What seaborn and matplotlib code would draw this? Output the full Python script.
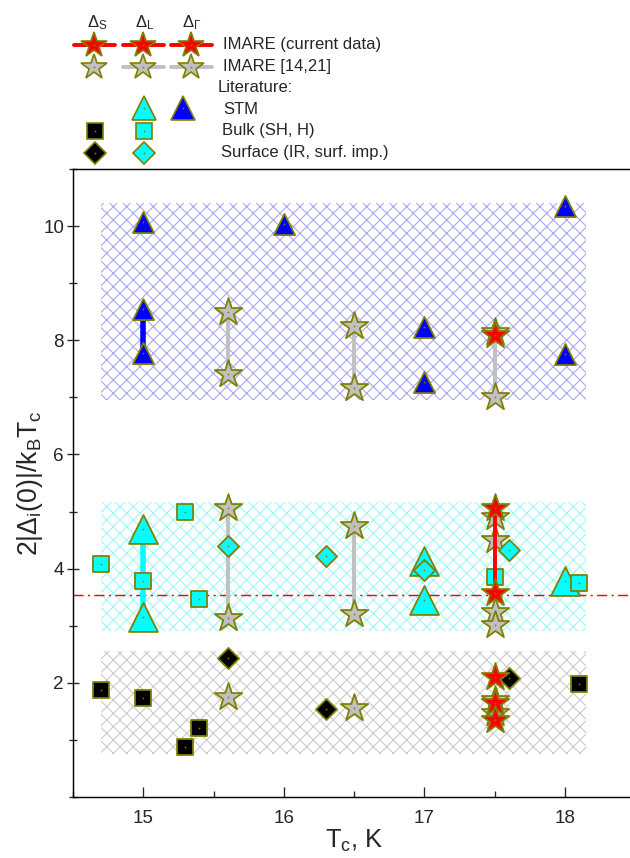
import matplotlib
matplotlib.use("Agg")
import matplotlib.pyplot as plt
import seaborn as sns
import pandas as pd
from matplotlib.patches import Rectangle
from matplotlib.ticker import MultipleLocator

# ---- gap ratios 2|Delta_i(0)|/k_B T_c versus T_c ----
# IMARE, current data
imare_now_tc = [17.5, 17.5, 17.5, 17.5, 17.5, 17.5]
imare_now_gap = [8.10, 5.06, 3.57, 2.10, 1.64, 1.35]
imare_now_bar_tc = [17.5]
imare_now_bar_lo = [3.57]
imare_now_bar_hi = [5.06]

# IMARE, refs [14,21]
imare_old_tc = [15.6, 15.6, 15.6, 15.6, 15.6,
                16.5, 16.5, 16.5, 16.5, 16.5,
                17.5, 17.5, 17.5, 17.5, 17.5, 17.5, 17.5, 17.5]
imare_old_gap = [8.49, 7.41, 5.06, 3.13, 1.76,
                 8.25, 7.16, 4.75, 3.20, 1.56,
                 8.15, 7.00, 4.90, 4.50, 3.24, 3.01, 1.70, 1.48]
imare_old_bar_tc = [15.6, 15.6, 16.5, 16.5, 17.5]
imare_old_bar_lo = [7.41, 3.13, 7.16, 3.20, 7.00]
imare_old_bar_hi = [8.49, 5.06, 8.25, 4.75, 8.15]

# STM, Delta_Gamma
stm_g_tc = [15.0, 15.0, 15.0, 16.0, 17.0, 17.0, 18.0, 18.0]
stm_g_gap = [10.07, 8.54, 7.77, 10.03, 8.23, 7.27, 10.35, 7.76]
stm_g_bar_tc = [15.0]
stm_g_bar_lo = [7.77]
stm_g_bar_hi = [8.54]

# STM, Delta_L
stm_l_tc = [15.0, 15.0, 17.0, 17.0, 18.0]
stm_l_gap = [4.69, 3.15, 4.13, 3.45, 3.78]
stm_l_bar_tc = [15.0]
stm_l_bar_lo = [3.15]
stm_l_bar_hi = [4.69]

# Bulk probes (specific heat, H)
bulk_s_tc = [14.7, 15.0, 15.3, 15.4, 18.1]
bulk_s_gap = [1.88, 1.73, 0.88, 1.20, 1.98]
bulk_l_tc = [14.7, 15.0, 15.3, 15.4, 17.5, 18.1]
bulk_l_gap = [4.08, 3.78, 4.99, 3.47, 3.85, 3.75]

# Surface probes (IR, surface impedance)
surf_s_tc = [15.6, 16.3, 17.6]
surf_s_gap = [2.43, 1.54, 2.08]
surf_l_tc = [15.6, 16.3, 17.0, 17.6]
surf_l_gap = [4.40, 4.22, 3.98, 4.33]

# BCS weak-coupling limit
bcs_ratio = 3.53

# Shaded ranges for each gap: (Tc from, Tc to, ratio from, ratio to)
band_gamma = (14.7, 18.15, 6.95, 10.40)
band_l = (14.7, 18.15, 2.90, 5.17)
band_s = (14.7, 18.15, 0.75, 2.55)

# ---- styling ----
sns.set_theme(style="ticks")
plt.rcParams["font.family"] = ["Liberation Sans", "DejaVu Sans"]
plt.rcParams["mathtext.fontset"] = "custom"
plt.rcParams["mathtext.rm"] = "Liberation Sans"
plt.rcParams["mathtext.it"] = "Liberation Sans"
plt.rcParams["mathtext.default"] = "regular"
plt.rcParams["hatch.linewidth"] = 1.0

DPI = 80
W, H = 630, 858
fig = plt.figure(figsize=(W / DPI, H / DPI), dpi=DPI)
ax = fig.add_axes([73 / W, 61 / H, 562 / W, 628 / H])

EDGE = "#808000"
RED = "#ff0000"
GREY = "#c0c0c0"
CYAN = "#00ffff"
BLUE = "#0000ff"

# hatched bands
for (x0, x1, y0, y1), col in [(band_gamma, "#a8a8f4"), (band_l, "#9ef8f8"), (band_s, "#cbcbcb")]:
    ax.add_patch(Rectangle((x0, y0), x1 - x0, y1 - y0, facecolor="none",
                           edgecolor=col, hatch="xx", linewidth=0, zorder=0.5))

ax.axhline(bcs_ratio, color=RED, lw=1.3, ls=(0, (7, 3, 1.5, 3)), zorder=1)

star_ms = 26
tri_small = 19
tri_big = 26
sq_ms = 14
dia_ms = 13.5


def pts(x, y, marker, size, color, z):
    sns.scatterplot(x=x, y=y, marker=marker, s=size ** 2, color=color,
                    edgecolor=EDGE, linewidth=1.6, ax=ax, zorder=z, legend=False)
    # small centre dot of each symbol
    ax.scatter(x, y, marker="o", s=2.5, color=EDGE, linewidths=0, zorder=z + 0.01)


# IMARE refs [14,21]
ax.vlines(imare_old_bar_tc, imare_old_bar_lo, imare_old_bar_hi, color=GREY, lw=3.5, zorder=2)
pts(imare_old_tc, imare_old_gap, "*", star_ms, GREY, 3)

# literature
ax.vlines(stm_g_bar_tc, stm_g_bar_lo, stm_g_bar_hi, color=BLUE, lw=5, zorder=3.5)
ax.vlines(stm_l_bar_tc, stm_l_bar_lo, stm_l_bar_hi, color=CYAN, lw=5, zorder=3.5)
pts(stm_g_tc, stm_g_gap, "^", tri_small, BLUE, 4)
pts(stm_l_tc, stm_l_gap, "^", tri_big, CYAN, 4)
pts(bulk_s_tc, bulk_s_gap, "s", sq_ms, "black", 4)
pts(bulk_l_tc, bulk_l_gap, "s", sq_ms, CYAN, 4)
pts(surf_s_tc, surf_s_gap, "D", dia_ms, "black", 4)
pts(surf_l_tc, surf_l_gap, "D", dia_ms, CYAN, 4)

# IMARE current data
ax.vlines(imare_now_bar_tc, imare_now_bar_lo, imare_now_bar_hi, color=RED, lw=3.5, zorder=5)
pts(imare_now_tc, imare_now_gap, "*", star_ms, RED, 6)

# axes
ax.set_xlim(14.5, 18.5)
ax.set_ylim(0, 11)
ax.xaxis.set_major_locator(MultipleLocator(1))
ax.xaxis.set_minor_locator(MultipleLocator(0.5))
ax.yaxis.set_major_locator(MultipleLocator(2))
ax.yaxis.set_minor_locator(MultipleLocator(1))
ax.set_yticks([2, 4, 6, 8, 10])
ax.spines["right"].set_visible(False)
for s in ["left", "bottom", "top"]:
    ax.spines[s].set_linewidth(1.3)
    ax.spines[s].set_color("black")
ax.tick_params(axis="x", which="major", direction="in", length=9, width=1.2,
               labelsize=17, pad=12, top=False)
ax.tick_params(axis="x", which="minor", direction="in", length=5, width=1.2, top=False)
ax.tick_params(axis="y", which="major", direction="inout", length=10, width=1.2,
               labelsize=17, pad=3, right=False)
ax.tick_params(axis="y", which="minor", direction="inout", length=7, width=1.2, right=False)
ax.set_xlabel("T$_c$, K", fontsize=23, labelpad=0)
ax.set_ylabel(r"$2|\Delta_i(0)|/k_BT_c$", fontsize=24)
ax.yaxis.set_label_coords(-0.05, 0.5)

# ---- key above the plot (figure pixel coordinates) ----
lg = fig.add_axes([0, 0, 1, 1], facecolor="none")
lg.set_xlim(0, W)
lg.set_ylim(H, 0)
lg.axis("off")

cols = [94, 143, 191]
for xc, lab in zip([97, 145, 192], [r"$\Delta_S$", r"$\Delta_L$", r"$\Delta_\Gamma$"]):
    lg.text(xc, 23, lab, fontsize=15, ha="center", va="center")


def key(x, y, marker, ms, color):
    lg.plot([x], [y], marker=marker, ms=ms, color=color, mec=EDGE, mew=1.5, zorder=2)
    lg.plot([x], [y], marker="o", ms=1.6, color=EDGE, mew=0, zorder=3)


for xc in cols:
    lg.plot([xc - 20, xc + 21], [45, 45], color=RED, lw=3.5, solid_capstyle="round", zorder=1)
    key(xc, 45, "*", 24, RED)
for i, xc in enumerate(cols):
    if i > 0:
        lg.plot([xc - 20, xc + 21], [67, 67], color=GREY, lw=3.5, solid_capstyle="round", zorder=1)
    key(xc, 67, "*", 24, GREY)

key(144, 108, "^", 21, CYAN)
key(183, 108, "^", 21, BLUE)
key(95, 131, "s", 15, "black")
key(144, 131, "s", 15, CYAN)
key(95, 153, "D", 14.5, "black")
key(144, 153, "D", 14.5, CYAN)

for y, txt, x in [(45, "IMARE (current data)", 223), (67, "IMARE [14,21]", 223),
                  (88, "Literature:", 218), (109, "STM", 223),
                  (131, "Bulk (SH, H)", 222), (153, "Surface (IR, surf. imp.)", 221)]:
    lg.text(x, y, txt, fontsize=15, ha="left", va="center")

fig.savefig("out.png", dpi=DPI)
